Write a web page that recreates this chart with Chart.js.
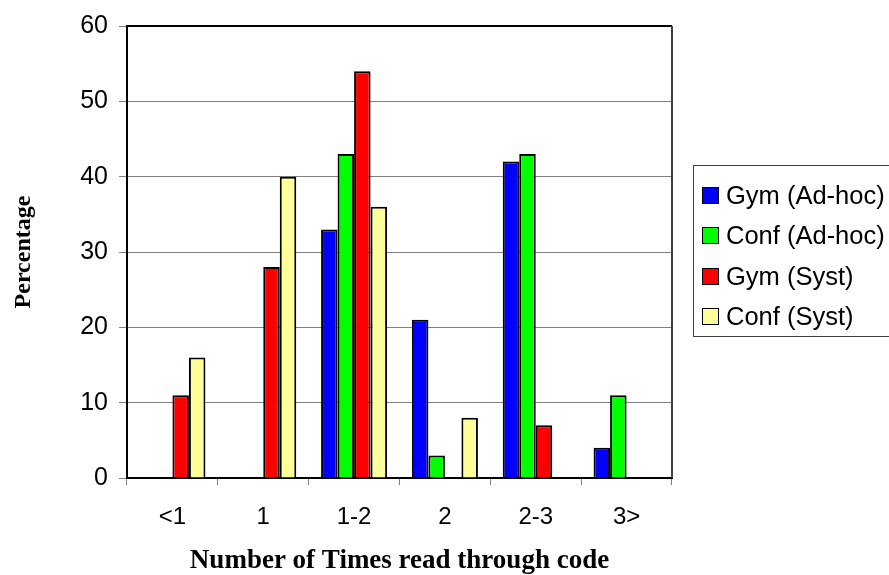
<!DOCTYPE html>
<html>
<head>
<meta charset="utf-8">
<script src="https://cdn.jsdelivr.net/npm/chart.js@4.4.1/dist/chart.umd.min.js"></script>
<style>
    body { margin: 0; background: #fff; }
    #wrap { position: relative; width: 889px; height: 575px; overflow: hidden; }
    #legend {
        position: absolute; left: 693px; top: 165px; width: 210px; height: 172px;
        border: 1px solid #404040; box-sizing: border-box;
        font-family: "Liberation Sans", Arial, sans-serif; font-size: 25.5px; color: #000;
        padding-top: 9px;
    }
    .item { height: 40.5px; display: flex; align-items: center; white-space: nowrap; }
    .box { width: 15px; height: 15px; border: 1.5px solid #000; margin-left: 8px; margin-right: 7px; }
</style>
</head>
<body>
<div id="wrap">
    <canvas id="chart"></canvas>
    <div id="legend"></div>
</div>
<script>
var categories = ["<1", "1", "1-2", "2", "2-3", "3>"]
var seriesNames = ["Gym (Ad-hoc)", "Conf (Ad-hoc)", "Gym (Syst)", "Conf (Syst)"]
var seriesColors = ["#0000FF", "#00FF00", "#FF0000", "#FFFF99"]

var gymAdhoc  = [null, null, 33, 21, 42, 4]
var confAdhoc = [null, null, 43, 3, 43, 11]
var gymSyst   = [11, 28, 54, null, 7, null]
var confSyst  = [16, 40, 36, 8, null, null]

var yTicks = [0, 10, 20, 30, 40, 50, 60]

var allSeries = [gymAdhoc, confAdhoc, gymSyst, confSyst]

// legend as plain html
var legendHtml = ""
for (var i = 0; i < seriesNames.length; i++) {
    legendHtml += '<div class="item"><div class="box" style="background:' + seriesColors[i] + '"></div>' + seriesNames[i] + '</div>'
}
document.getElementById("legend").innerHTML = legendHtml

var frame = {
    id: "frame",
    afterDraw: function (chart) {
        var a = chart.chartArea
        var ctx = chart.ctx
        ctx.save()
        ctx.strokeStyle = "#000"
        ctx.lineWidth = 2
        ctx.beginPath()
        ctx.moveTo(a.left, a.top)
        ctx.lineTo(a.right, a.top)
        ctx.stroke()
        ctx.strokeStyle = "#404040"
        ctx.beginPath()
        ctx.moveTo(a.right, a.top)
        ctx.lineTo(a.right, a.bottom)
        ctx.stroke()
        ctx.restore()
    }
}

new Chart("chart", {
    type: "bar",
    data: {
        labels: categories,
        datasets: allSeries.map(function (values, i) {
            return {
                label: seriesNames[i],
                data: values,
                backgroundColor: seriesColors[i],
                borderColor: "#000",
                borderWidth: 2,
                borderSkipped: "bottom",
                categoryPercentage: 0.727,
                barPercentage: 1
            }
        })
    },
    options: {
        responsive: true,
        maintainAspectRatio: false,
        animation: false,
        layout: { padding: { left: 0, top: 24, right: 217, bottom: 0 } },
        plugins: {
            legend: { display: false },
            tooltip: { enabled: false }
        },
        scales: {
            x: {
                afterFit: function (scale) { scale.height = 97 },
                grid: { display: true, drawOnChartArea: false, color: "#808080", tickLength: 7, offset: true },
                border: { color: "#000", width: 2 },
                ticks: { color: "#000", padding: 18, font: { family: "Liberation Sans", size: 24 } },
                title: {
                    display: true,
                    text: "Number of Times read through code",
                    color: "#000",
                    padding: { top: 0, bottom: 0 },
                    font: { family: "Liberation Serif", size: 27, weight: "bold", lineHeight: 1 }
                }
            },
            y: {
                min: 0,
                max: 60,
                afterFit: function (scale) { scale.width = 127 },
                afterBuildTicks: function (scale) {
                    scale.ticks = yTicks.map(function (v) { return { value: v } })
                },
                grid: { color: "#808080", lineWidth: 1, tickLength: 8 },
                border: { color: "#000", width: 2 },
                ticks: { color: "#000", padding: 11, font: { family: "Liberation Sans", size: 25 } },
                title: {
                    display: true,
                    text: "Percentage",
                    color: "#000",
                    padding: { top: 12, bottom: 0 },
                    font: { family: "Liberation Serif", size: 24, weight: "bold", lineHeight: 1 }
                }
            }
        }
    },
    plugins: [frame]
})
</script>
</body>
</html>
